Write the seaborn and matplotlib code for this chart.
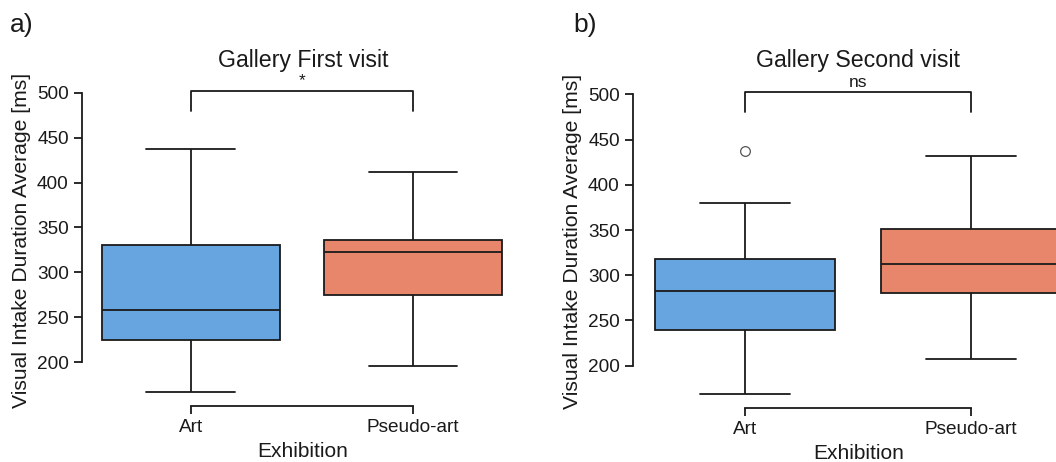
import matplotlib
matplotlib.use("Agg")
import matplotlib.pyplot as plt
import seaborn as sns
import pandas as pd
import numpy as np

# values (9 obs per group, quartiles at obs 3/5/7)
categories = ["Art", "Pseudo-art"]
first_art = [167, 200, 224.6, 240, 258, 290, 330.5, 380, 437.5]
first_pseudo = [196, 240, 275, 300, 322.7, 330, 336, 370, 412]
second_art = [169, 210, 239.6, 260, 282.6, 300, 318, 380, 437]
second_pseudo = [207, 250, 280.6, 300, 312.4, 330, 351, 400, 431.8]
titles = ["Gallery First visit", "Gallery Second visit"]
signif = ["*", "ns"]
panel_labels = ["a)", "b)"]
yticks = [200, 250, 300, 350, 400, 450, 500]
bracket_low, bracket_high = 480, 502

palette = {"Art": "#66A5E0", "Pseudo-art": "#E8866B"}

def make_df(art, pseudo):
    return pd.DataFrame({
        "Exhibition": ["Art"] * len(art) + ["Pseudo-art"] * len(pseudo),
        "Duration": art + pseudo,
    })

sns.set_theme(style="ticks")
plt.rcParams["font.family"] = ["Liberation Sans", "DejaVu Sans"]

W, H = 1056, 462
fig = plt.figure(figsize=(W / 100, H / 100), dpi=100)

# axes boxes in pixels: left, top, right, bottom
boxes = [(82, 75, 524, 406), (633, 75, 1084, 408)]
xlims = [(-0.49, 1.5), (-0.496, 1.5)]
ylims = [(151, 520), (153.3, 521.3)]
data = [make_df(first_art, first_pseudo), make_df(second_art, second_pseudo)]
label_x = [10, 573]

for i in range(2):
    l, t, r, b = boxes[i]
    ax = fig.add_axes([l / W, 1 - b / H, (r - l) / W, (b - t) / H])
    sns.boxplot(data=data[i], x="Exhibition", y="Duration", hue="Exhibition",
                order=categories, palette=palette, saturation=1, width=0.8,
                linewidth=1.3, linecolor="#1a1a1a", legend=False, ax=ax,
                flierprops=dict(marker="o", markersize=7, markerfacecolor="white",
                                markeredgecolor="#555555", markeredgewidth=0.9))
    ax.set_xlim(*xlims[i])
    ax.set_ylim(*ylims[i])
    ax.set_yticks(yticks)
    ax.tick_params(labelsize=13.7, length=6, width=1.3, colors="#1a1a1a")
    ax.set_xlabel("Exhibition", fontsize=15, color="#1a1a1a")
    ax.set_ylabel("Visual Intake Duration Average [ms]", fontsize=15.2, color="#1a1a1a")
    ax.set_title(titles[i], fontsize=16.7, pad=6, color="#1a1a1a")
    sns.despine(ax=ax, trim=True)
    for s in ["left", "bottom"]:
        ax.spines[s].set_linewidth(1.3)
        ax.spines[s].set_color("#1a1a1a")

    # significance bracket
    ax.plot([0, 0, 1, 1], [bracket_low, bracket_high, bracket_high, bracket_low],
            color="#1a1a1a", lw=1.3, clip_on=False)
    ax.text(0.5, bracket_high + 3, signif[i], ha="center", va="bottom",
            fontsize=12.5, color="#1a1a1a")

    fig.text(label_x[i] / W, 1 - 32 / H, panel_labels[i], fontsize=19,
             ha="left", va="baseline", color="#1a1a1a")

fig.savefig("out.png", dpi=100)
